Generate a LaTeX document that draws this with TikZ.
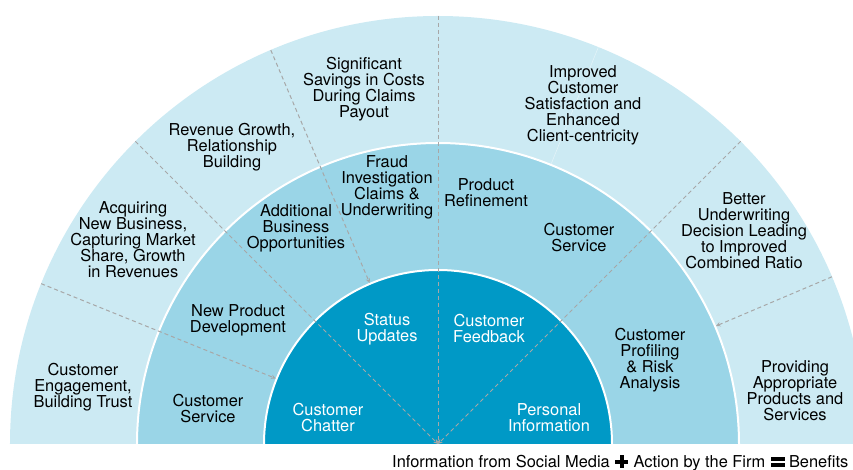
\documentclass[tikz,border=0pt]{standalone}
\usepackage{fontspec}
\setmainfont{TeX Gyre Heros}
\usetikzlibrary{positioning,arrows}
\definecolor{ringout}{HTML}{CCEAF3}
\definecolor{ringmid}{HTML}{9AD5E7}
\definecolor{ringin}{HTML}{0099C6}
\definecolor{spokegray}{HTML}{A7A7A7}

\begin{document}
\begin{tikzpicture}[x=1pt,y=1pt]
\tikzstyle{every node} = [align=center, inner sep=0pt, font=\fontsize{16.4}{16}\selectfont];
\tikzstyle{spoke} = [spokegray, line width=1pt, dash pattern=on 4pt off 3pt, -stealth];
\tikzstyle{inner} = [white];
\tikzstyle{legend} = [text height=12.5pt, text depth=0.5pt];
\useasboundingbox (-438,-26) rectangle (415,444);
\clip (-438,-26) rectangle (415,444);
\fill[ringout] (0,0) -- (180:428) arc (180:0:428) -- cycle;
\fill[ringmid] (0,0) -- (180:301) arc (180:0:301) -- cycle;
\fill[ringin] (0,0) -- (180:174) arc (180:0:174) -- cycle;
\draw[white, line width=2pt] (180:301) arc (180:0:301) (180:174) arc (180:0:174);
\draw[white, opacity=0.5, line width=0.5pt] (68:428) -- (68:302);
\draw[spoke] (158:428) -- (158:175);
\draw[spoke] (135:428) -- (0,0);
\draw[spoke] (113:428) -- (113:175);
\draw[spoke] (90:428) -- (0,0);
\draw[spoke] (45:428) -- (0,0);
\draw[spoke] (23:428) -- (23:302);
\node (E1) at (-355,57) {Customer\\Engagement,\\Building Trust};
\node (E2) at (-305,204) {Acquiring\\New Business,\\Capturing Market\\Share, Growth\\in Revenues};
\node (E3) at (-206,297) {Revenue Growth,\\Relationship\\Building};
\node (E4) at (-74,355) {Significant\\Savings in Costs\\During Claims\\Payout};
\node (E5) at (145,339) {Improved\\Customer\\Satisfaction and\\Enhanced\\Client-centricity};
\node (E6) at (306,213) {Better\\Underwriting\\Decision Leading\\to Improved\\Combined Ratio};
\node (E7) at (357,53) {Providing\\Appropriate\\Products and\\Services};
\node (M1) at (-230,35) {Customer\\Service};
\node (M2) at (-200,124) {New Product\\Development};
\node (M3) at (-142,216) {Additional\\Business\\Opportunities};
\node (M4) at (-51,257) {Fraud\\Investigation\\Claims \&\\Underwriting};
\node (M5) at (48,251) {Product\\Refinement};
\node (M6) at (141,206) {Customer\\Service};
\node (M7) at (212,84) {Customer\\Profiling\\\& Risk\\Analysis};
\node[inner] (S1) at (-110,26) {Customer\\Chatter};
\node[inner] (S2) at (-51,115) {Status\\Updates};
\node[inner] (S3) at (51,115) {Customer\\Feedback};
\node[inner] (S4) at (111,26) {Personal\\Information};
\node[legend, anchor=base west] (L1) at (-46,-24) {Information from Social Media};
\node[legend, right=5pt of L1, minimum width=13pt] (L2) {};
\node[legend, right=5pt of L2] (L3) {Action by the Firm};
\node[legend, right=5pt of L3, minimum width=14pt] (L4) {};
\node[legend, right=4pt of L4] (L5) {Benefits};
\fill ([xshift=-6.5pt,yshift=-2pt]L2.center) rectangle ([xshift=6.5pt,yshift=2pt]L2.center);
\fill ([xshift=-2pt,yshift=-6.5pt]L2.center) rectangle ([xshift=2pt,yshift=6.5pt]L2.center);
\fill ([xshift=-7pt,yshift=1pt]L4.center) rectangle ([xshift=7pt,yshift=5pt]L4.center);
\fill ([xshift=-7pt,yshift=-1pt]L4.center) rectangle ([xshift=7pt,yshift=-5pt]L4.center);
\end{tikzpicture}
\end{document}
